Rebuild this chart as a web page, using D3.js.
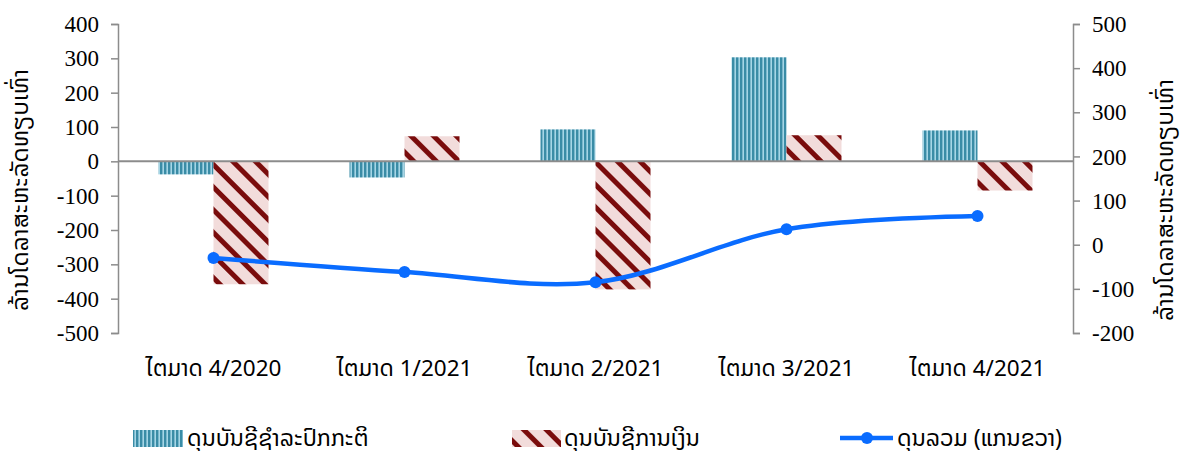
<!DOCTYPE html>
<html><head><meta charset="utf-8">
<script src="https://cdn.jsdelivr.net/npm/d3@7/dist/d3.min.js"></script>
<style>
body{margin:0;background:#fff;}
svg{display:block;}
.serif{font-family:"Liberation Serif","Times New Roman",serif;}
.lao{font-family:"Noto Sans Lao","Noto Sans","DejaVu Sans",sans-serif;}
</style></head>
<body>
<svg id="chart" width="1181" height="451"></svg>
<script>
const categories = ["ໄຕມາດ 4/2020","ໄຕມາດ 1/2021","ໄຕມາດ 2/2021","ໄຕມາດ 3/2021","ໄຕມາດ 4/2021"];
const currentAccount = [-38, -47, 93, 303, 90];
const financialAccount = [-358, 73, -373, 76, -85];
const overallBalance = [-30, -62, -85, 35, 65];
const leftTicks = [400,300,200,100,0,-100,-200,-300,-400,-500];
const rightTicks = [500,400,300,200,100,0,-100,-200];
const seriesNames = ["ດຸນບັນຊີຊຳລະປົກກະຕິ","ດຸນບັນຊີການເງິນ","ດຸນລວມ (ແກນຂວາ)"];
const axisTitleL = "ລ້ານໂດລາສະຫະລັດທຽບເທົ່າ";

(function(){
const svg = d3.select("#chart");
const defs = svg.append("defs");
const p1 = defs.append("pattern").attr("id","vstripe").attr("patternUnits","userSpaceOnUse").attr("width",4).attr("height",4);
p1.append("rect").attr("width",4).attr("height",4).attr("fill","#a6d6e6");
p1.append("rect").attr("x",0).attr("width",2.4).attr("height",4).attr("fill","#3a8ca6");
const p2 = defs.append("pattern").attr("id","dstripe").attr("patternUnits","userSpaceOnUse").attr("width",16).attr("height",16).attr("patternTransform","rotate(-45)");
p2.append("rect").attr("width",16).attr("height",16).attr("fill","#f2dcdb");
p2.append("rect").attr("x",0).attr("width",5).attr("height",16).attr("fill","#7a0c0c");

const pl = 118, pr = 1073, pt = 24, pb = 333;
const x = d3.scaleBand().domain(categories).range([pl,pr]).paddingInner(0).paddingOuter(0);
const yL = d3.scaleLinear().domain([-500,400]).range([pb,pt]);
const yR = d3.scaleLinear().domain([-200,500]).range([pb,pt]);
const barW = 55;

svg.append("g").selectAll("rect").data(currentAccount).join("rect")
  .attr("x",(d,i)=>x(categories[i])+x.bandwidth()/2-barW)
  .attr("width",barW)
  .attr("y",d=>yL(Math.max(0,d)))
  .attr("height",d=>Math.abs(yL(d)-yL(0)))
  .attr("fill","url(#vstripe)");
svg.append("g").selectAll("rect").data(financialAccount).join("rect")
  .attr("x",(d,i)=>x(categories[i])+x.bandwidth()/2)
  .attr("width",barW)
  .attr("y",d=>yL(Math.max(0,d)))
  .attr("height",d=>Math.abs(yL(d)-yL(0)))
  .attr("fill","url(#dstripe)");

svg.append("line").attr("x1",pl).attr("x2",pr).attr("y1",yL(0)).attr("y2",yL(0))
  .attr("stroke","#8c8c8c").attr("stroke-width",2);

const gL = svg.append("g").attr("transform",`translate(${pl},0)`)
  .call(d3.axisLeft(yL).tickValues(leftTicks).tickSize(7).tickPadding(12).tickFormat(d=>String(d)));
const gR = svg.append("g").attr("transform",`translate(${pr},0)`)
  .call(d3.axisRight(yR).tickValues(rightTicks).tickSize(7).tickPadding(12).tickFormat(d=>String(d)));
[gL,gR].forEach(g=>{
  g.select(".domain").attr("stroke","#8c8c8c").attr("stroke-width",1.5);
  g.selectAll(".tick line").attr("stroke","#8c8c8c").attr("stroke-width",1.5);
  g.selectAll("text").attr("class","serif").attr("font-size",23).attr("fill","#000").attr("dy","0.33em");
});

svg.append("g").selectAll("text").data(categories).join("text")
  .attr("class","lao")
  .attr("x",d=>x(d)+x.bandwidth()/2)
  .attr("y",376)
  .attr("text-anchor","middle")
  .attr("font-size",22.5)
  .text(d=>d);

svg.append("text").attr("class","lao").attr("font-size",23)
  .attr("transform","translate(28,190) rotate(-90)").attr("text-anchor","middle")
  .attr("textLength",242).attr("lengthAdjust","spacingAndGlyphs").text(axisTitleL);
svg.append("text").attr("class","lao").attr("font-size",23)
  .attr("transform","translate(1173,200) rotate(-90)").attr("text-anchor","middle")
  .attr("textLength",242).attr("lengthAdjust","spacingAndGlyphs").text(axisTitleL);

const line = d3.line().x((d,i)=>x(categories[i])+x.bandwidth()/2).y(d=>yR(d)).curve(d3.curveCatmullRom.alpha(0.5));
svg.append("path").datum(overallBalance).attr("d",line).attr("fill","none")
  .attr("stroke","#0a6cff").attr("stroke-width",4.5);
svg.append("g").selectAll("circle").data(overallBalance).join("circle")
  .attr("cx",(d,i)=>x(categories[i])+x.bandwidth()/2).attr("cy",d=>yR(d)).attr("r",6).attr("fill","#0a6cff");

const ly = 438;
const lg = svg.append("g");
lg.append("rect").attr("x",133).attr("y",ly-8).attr("width",50).attr("height",17).attr("fill","url(#vstripe)");
lg.append("text").attr("class","lao").attr("x",187).attr("y",ly+8).attr("font-size",23).text(seriesNames[0]);
lg.append("rect").attr("x",512).attr("y",ly-8).attr("width",49).attr("height",17).attr("fill","url(#dstripe)");
lg.append("text").attr("class","lao").attr("x",564).attr("y",ly+8).attr("font-size",23).text(seriesNames[1]);
lg.append("line").attr("x1",840).attr("x2",893).attr("y1",ly).attr("y2",ly).attr("stroke","#0a6cff").attr("stroke-width",4.5);
lg.append("circle").attr("cx",867).attr("cy",ly).attr("r",6).attr("fill","#0a6cff");
lg.append("text").attr("class","lao").attr("x",897).attr("y",ly+8).attr("font-size",23).text(seriesNames[2]);
})();
</script>
</body></html>
